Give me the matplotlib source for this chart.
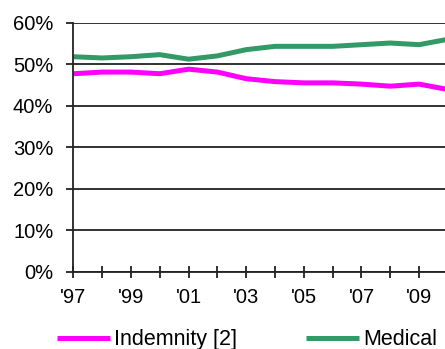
import matplotlib
matplotlib.use("Agg")
import matplotlib.pyplot as plt
from matplotlib.ticker import FuncFormatter, MultipleLocator, FixedLocator

plt.rcParams['font.family'] = ['Liberation Sans', 'DejaVu Sans']

# share of benefit costs by type, 1997-2010
years = [1997, 1998, 1999, 2000, 2001, 2002, 2003, 2004, 2005, 2006, 2007, 2008, 2009, 2010]
indemnity = [47.7, 48.1, 48.1, 47.7, 48.8, 48.1, 46.5, 45.8, 45.5, 45.5, 45.2, 44.7, 45.2, 43.9]
medical = [51.8, 51.5, 51.8, 52.3, 51.2, 52.0, 53.5, 54.3, 54.3, 54.3, 54.7, 55.1, 54.7, 56.0]
year_labels = ["'97", "'99", "'01", "'03", "'05", "'07", "'09"]

fs = 14.5

fig = plt.figure(figsize=(4.45, 3.49), dpi=100)
ax = fig.add_axes([0.1647, 0.2215, 0.8353, 0.7135])

ax.plot(years, indemnity, color='#FF00FF', lw=3.6, label='Indemnity [2]', solid_capstyle='butt')
ax.plot(years, medical, color='#339966', lw=3.6, label='Medical', solid_capstyle='butt')

ax.set_ylim(0, 60)
ax.set_xlim(1997, 2009.9)
ax.yaxis.set_major_locator(MultipleLocator(10))
ax.yaxis.set_major_formatter(FuncFormatter(lambda v, p: '%d%%' % v))
# labels on odd years, plain ticks on every year
ax.xaxis.set_major_locator(FixedLocator(years[::2]))
ax.xaxis.set_minor_locator(FixedLocator(years[1::2]))
ax.set_xticklabels(year_labels)

ax.grid(axis='y', color='#222222', lw=1.3)
ax.set_axisbelow(True)
for s in ['top', 'right']:
    ax.spines[s].set_visible(False)
for s in ['left', 'bottom']:
    ax.spines[s].set_color('#222222')
    ax.spines[s].set_linewidth(1.3)

ax.tick_params(axis='y', direction='out', length=5.4, width=1.3, color='#222222',
               pad=9, labelsize=fs)
ax.tick_params(axis='x', which='both', direction='inout', length=9, width=1.3,
               color='#222222', pad=7.5, labelsize=fs)

fig.legend(loc='center left', bbox_to_anchor=(0.128, 0.026), ncol=2, frameon=False,
           fontsize=15.5, handlelength=2.45, handletextpad=0.2, columnspacing=3.2,
           borderaxespad=0, borderpad=0)

fig.savefig('out.png', dpi=100)
